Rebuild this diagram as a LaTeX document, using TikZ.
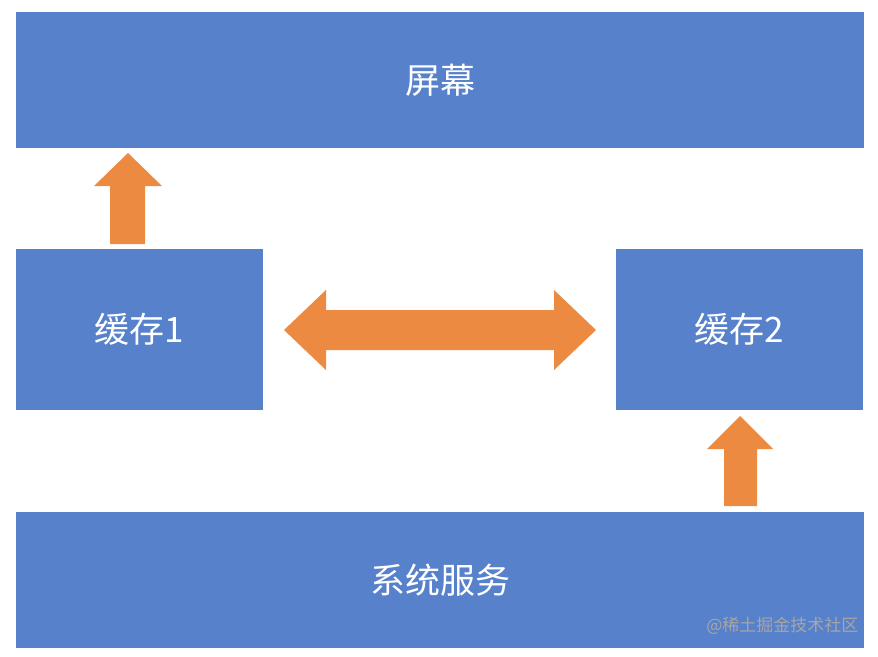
\documentclass[tikz,border=0pt]{standalone}
\usepackage{fontspec}
\newfontfamily\cjk{Noto Sans CJK SC}
\definecolor{bx}{HTML}{5781CA}
\definecolor{ar}{HTML}{EB8A40}
\begin{document}
\begin{tikzpicture}[x=1pt,y=-1pt,
  box/.style={fill=bx,draw=none,font=\cjk\fontsize{35}{40}\selectfont,text=white},
  arr/.style={fill=ar,draw=none}]
\useasboundingbox (0,0) rectangle (878,656);
\fill[white] (0,0) rectangle (878,656);
\node[box,minimum width=848,minimum height=136] (screen) at (440,80) {屏幕};
\node[box,minimum width=247,minimum height=161] (c1) at (139.5,329.5) {缓存1};
\node[box,minimum width=247,minimum height=161] (c2) at (739.5,329.5) {缓存2};
\node[box,minimum width=848,minimum height=136] (sys) at (440,580) {系统服务};
\fill[arr] (110,244) -- (110,186) -- (94,186) -- (128,153) -- (162,186) -- (145,186) -- (145,244) -- cycle;
\fill[arr] (724,506) -- (724,449) -- (707,449) -- (740,416) -- (773,449) -- (757,449) -- (757,506) -- cycle;
\fill[arr] (284,330) -- (326,290) -- (326,310) -- (554,310) -- (554,290) -- (596,330) -- (554,370) -- (554,350) -- (326,350) -- (326,370) -- cycle;
\node[anchor=east,text=gray!70,font=\cjk\fontsize{17}{19}\selectfont] (wm) at (862,626) {@稀土掘金技术社区};
\end{tikzpicture}
\end{document}
